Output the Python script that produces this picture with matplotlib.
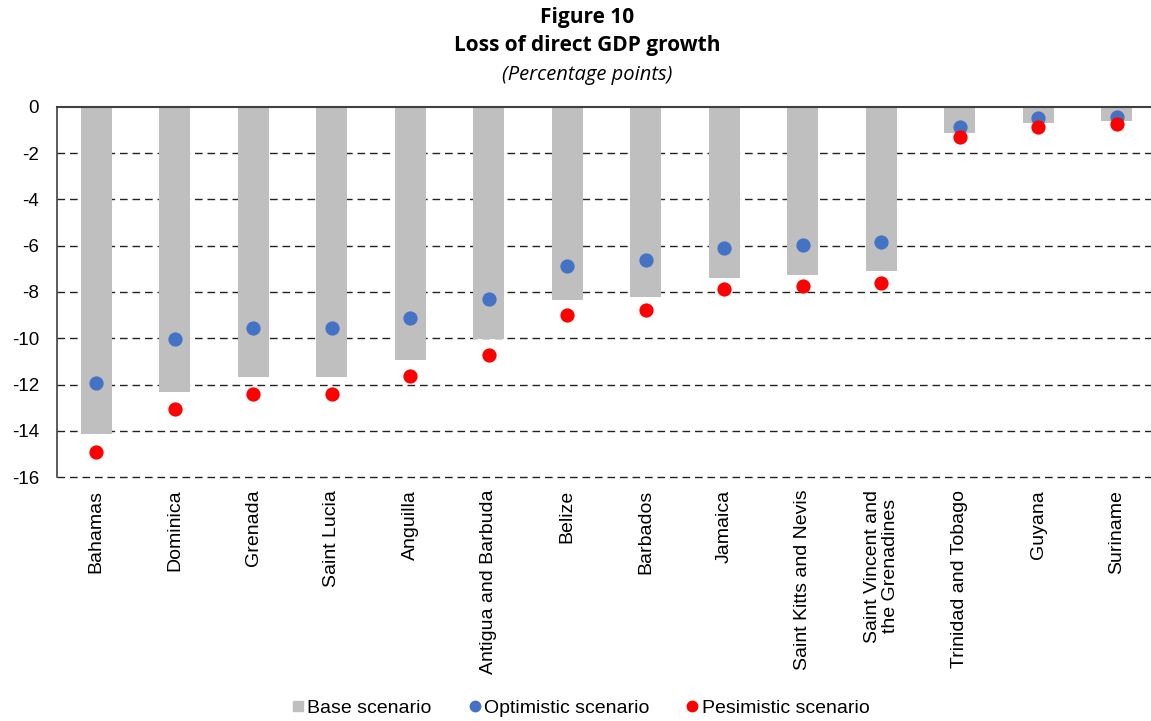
import numpy as np
import matplotlib.pyplot as plt
from matplotlib.lines import Line2D

plt.rcParams['font.family'] = ['Liberation Sans', 'DejaVu Sans']

countries = ["Bahamas", "Dominica", "Grenada", "Saint Lucia", "Anguilla",
             "Antigua and Barbuda", "Belize", "Barbados", "Jamaica",
             "Saint Kitts and Nevis", "Saint Vincent and\nthe Grenadines",
             "Trinidad and Tobago", "Guyana", "Suriname"]
base = [-14.14, -12.33, -11.69, -11.67, -10.93, -10.03, -8.36, -8.20,
        -7.41, -7.26, -7.09, -1.12, -0.72, -0.63]
optimistic = [-11.94, -10.01, -9.55, -9.54, -9.12, -8.30, -6.88, -6.64,
              -6.10, -5.97, -5.84, -0.86, -0.50, -0.43]
pessimistic = [-14.92, -13.05, -12.41, -12.40, -11.62, -10.70, -8.98, -8.76,
               -7.88, -7.75, -7.60, -1.32, -0.88, -0.75]
yticks = np.arange(0, -17, -2)

GRAY = "#BFBFBF"
BLUE = "#4472C4"
RED = "#FF0000"

fig = plt.figure(figsize=(11.51, 7.21), dpi=100)
ax = fig.add_axes([57 / 1151, 1 - 477.3 / 721, 1099 / 1151, 370.6 / 721])

x = np.arange(len(countries))
ax.bar(x, base, width=0.4, color=GRAY, zorder=2)
ax.scatter(x, optimistic, s=105, color=BLUE, zorder=3, linewidths=0)
ax.scatter(x, pessimistic, s=105, color=RED, zorder=3, linewidths=0)

ax.set_xlim(-0.5, len(countries) - 0.5)
ax.set_ylim(-16, 0)
ax.set_yticks(yticks)
ax.set_yticklabels([str(v) for v in yticks], fontsize=13.5)
# dashed gridlines, the -16 one sits on the axis edge so don't clip it
for v in yticks[1:]:
    ax.axhline(v, color="#222222", linestyle=(0, (5.5, 3.5)), linewidth=1,
               zorder=1, clip_on=False)

ax.set_xticks(x)
ax.set_xticklabels(countries, rotation=90, fontsize=14, va="top",
                   ha="center", multialignment="center", linespacing=1.05)
ax.tick_params(axis="x", length=0, pad=9)
ax.tick_params(axis="y", length=0, pad=13)

for side in ["right", "bottom"]:
    ax.spines[side].set_visible(False)
ax.spines["left"].set_color("#404040")
ax.spines["top"].set_color("#404040")
ax.spines["left"].set_linewidth(1.2)
ax.spines["top"].set_linewidth(1.5)

title_font = ["Open Sans", "DejaVu Sans"]
fig.text(0.51, 1 - 17 / 721, "Figure 10", ha="center", va="center",
         fontsize=15, fontweight="bold", family=title_font)
fig.text(0.51, 1 - 46 / 721, "Loss of direct GDP growth", ha="center",
         va="center", fontsize=15, fontweight="bold", family=title_font)
fig.text(0.51, 1 - 75 / 721, "(Percentage points)", ha="center", va="center",
         fontsize=14.5, style="italic", family=title_font)

handles = [
    Line2D([], [], marker="s", linestyle="none", color=GRAY, markersize=7.5),
    Line2D([], [], marker="o", linestyle="none", color=BLUE, markersize=7.5),
    Line2D([], [], marker="o", linestyle="none", color=RED, markersize=7.5),
]
fig.legend(handles, ["Base scenario", "Optimistic scenario", "Pesimistic scenario"],
           loc="center", bbox_to_anchor=(0.503, 1 - 708 / 721), ncol=3,
           frameon=False, fontsize=14, handletextpad=0.0, columnspacing=1.7,
           handlelength=1.0)

fig.savefig("out.png", dpi=100)
